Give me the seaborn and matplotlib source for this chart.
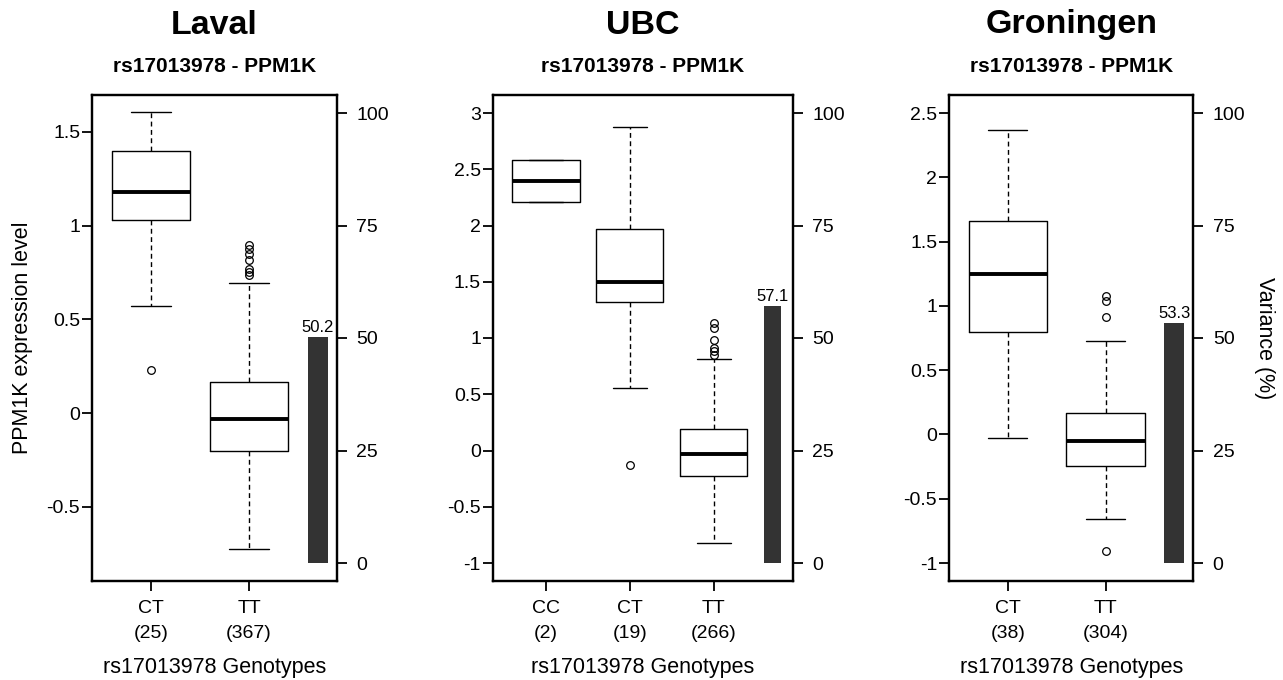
import matplotlib
matplotlib.use('Agg')
import matplotlib.pyplot as plt
import seaborn as sns

# ---- data (box summaries per genotype) ----
cohorts = ['Laval', 'UBC', 'Groningen']
snp = 'rs17013978'
gene = 'PPM1K'

laval_genotypes = ['CT', 'TT']
laval_n = [25, 367]
laval_whislo = [0.57, -0.725]
laval_q1 = [1.027, -0.200]
laval_med = [1.181, -0.032]
laval_q3 = [1.397, 0.163]
laval_whishi = [1.603, 0.693]
laval_fliers = [[0.229], [0.734, 0.752, 0.770, 0.814, 0.849, 0.876, 0.894]]
laval_variance = 50.2

ubc_genotypes = ['CC', 'CT', 'TT']
ubc_n = [2, 19, 266]
ubc_whislo = [2.207, 0.56, -0.821]
ubc_q1 = [2.207, 1.321, -0.228]
ubc_med = [2.397, 1.499, -0.027]
ubc_q3 = [2.584, 1.973, 0.193]
ubc_whishi = [2.584, 2.88, 0.809]
ubc_fliers = [[], [-0.13], [0.853, 0.883, 0.913, 0.978, 1.091, 1.135]]
ubc_variance = 57.1

gron_genotypes = ['CT', 'TT']
gron_n = [38, 304]
gron_whislo = [-0.029, -0.659]
gron_q1 = [0.793, -0.249]
gron_med = [1.247, -0.050]
gron_q3 = [1.657, 0.166]
gron_whishi = [2.369, 0.728]
gron_fliers = [[], [-0.905, 0.910, 1.039, 1.073]]
gron_variance = 53.3

yticks_list = [[-0.5, 0, 0.5, 1, 1.5],
               [-1, -0.5, 0, 0.5, 1, 1.5, 2, 2.5, 3],
               [-1, -0.5, 0, 0.5, 1, 1.5, 2, 2.5]]
ylims = [(-0.896, 1.696), (-1.16, 3.16), (-1.14, 2.64)]
var_ticks = [0, 25, 50, 75, 100]

sns.set_theme(style='ticks')
plt.rcParams['font.family'] = ['Liberation Sans', 'DejaVu Sans']
plt.rcParams['text.color'] = 'black'
plt.rcParams['axes.labelcolor'] = 'black'

W, H = 1283, 680
fig = plt.figure(figsize=(W / 100, H / 100), dpi=100)

# axes boxes in pixel coords (left, right)
boxes_px = [(92, 337), (492.7, 792.7), (949, 1193.3)]
top_px, bot_px = 95, 581

panels = [
    (laval_genotypes, laval_n, laval_whislo, laval_q1, laval_med, laval_q3, laval_whishi, laval_fliers, laval_variance),
    (ubc_genotypes, ubc_n, ubc_whislo, ubc_q1, ubc_med, ubc_q3, ubc_whishi, ubc_fliers, ubc_variance),
    (gron_genotypes, gron_n, gron_whislo, gron_q1, gron_med, gron_q3, gron_whishi, gron_fliers, gron_variance),
]

for i, (geno, n, wlo, q1, med, q3, whi, fl, var) in enumerate(panels):
    l, r = boxes_px[i]
    ax = fig.add_axes([l / W, 1 - bot_px / H, (r - l) / W, (bot_px - top_px) / H])
    stats = [dict(med=med[k], q1=q1[k], q3=q3[k], whislo=wlo[k], whishi=whi[k], fliers=fl[k])
             for k in range(len(geno))]
    pos = list(range(1, len(geno) + 1))
    ax.bxp(stats, positions=pos, widths=0.8, showfliers=True,
           boxprops=dict(color='black', lw=1.0),
           medianprops=dict(color='black', lw=2.8, solid_capstyle='butt'),
           whiskerprops=dict(color='black', lw=1.0, linestyle=(0, (3.5, 2.5))),
           capprops=dict(color='black', lw=1.0),
           flierprops=dict(marker='o', mfc='none', mec='black', ms=5.5, mew=0.9))

    ax2 = ax.twinx()
    bar_x = len(geno) + 0.7
    sns.barplot(x=[bar_x], y=[var], native_scale=True, width=0.2, color='#333333',
                saturation=1, linewidth=0, ax=ax2)
    ax2.bar_label(ax2.containers[0], fmt='%.1f', padding=1.5, fontsize=12, color='black')
    ax2.set_ylim(-4, 104)
    ax2.set_yticks(var_ticks)
    ax2.set_xlabel('')
    ax2.set_ylabel('')

    if len(geno) == 2:
        ax.set_xlim(0.4, 2.895)
    else:
        ax.set_xlim(0.365, 3.94)
    ax.set_ylim(*ylims[i])
    ax.set_yticks(yticks_list[i])
    ax.set_yticklabels([f'{t:g}' for t in yticks_list[i]])
    ax.set_xticks(pos)
    ax.set_xticklabels([f'{g}\n({c})' for g, c in zip(geno, n)], linespacing=1.55)

    for a in (ax, ax2):
        for s in a.spines.values():
            s.set_linewidth(1.6)
            s.set_color('black')
    ax.tick_params(axis='x', length=7, width=1.3, pad=7, labelsize=14, colors='black')
    ax.tick_params(axis='y', length=7, width=1.3, pad=1.5, labelsize=14, colors='black')
    ax2.tick_params(axis='y', length=7, width=1.3, pad=7, labelsize=14, colors='black')

    h = bot_px - top_px
    ax.text(0.5, 1 + (top_px - 25) / h, cohorts[i], transform=ax.transAxes,
            ha='center', va='center', fontsize=24.5, fontweight='bold')
    ax.text(0.5, 1 + (top_px - 67) / h, f'{snp} - {gene}', transform=ax.transAxes,
            ha='center', va='center', fontsize=15, fontweight='bold')
    ax.text(0.5, -(667 - bot_px) / h, f'{snp} Genotypes', transform=ax.transAxes,
            ha='center', va='center', fontsize=15.5)

    if i == 0:
        ax.text(-(l - 23) / (r - l), 0.5, f'{gene} expression level', transform=ax.transAxes,
                ha='center', va='center', rotation=90, fontsize=15.5)
    if i == 2:
        ax.text(1 + (1264 - r) / (r - l), 0.5, 'Variance (%)', transform=ax.transAxes,
                ha='center', va='center', rotation=270, fontsize=15.5)

fig.savefig('out.png', dpi=100, facecolor='white')
